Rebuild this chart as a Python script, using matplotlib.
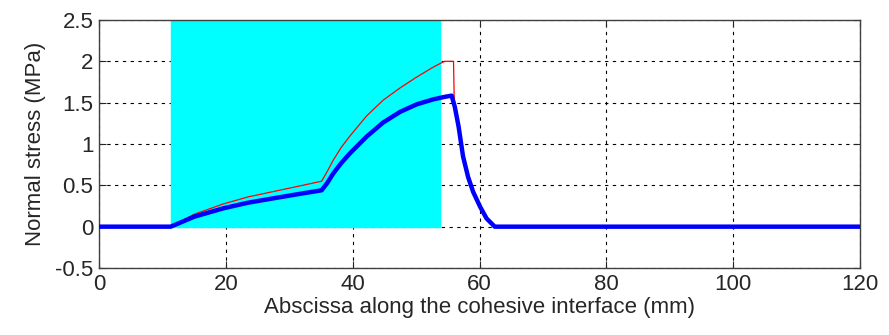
import numpy as np
import matplotlib.pyplot as plt

plt.rcParams['font.family'] = ['Liberation Sans', 'DejaVu Sans']

# cohesive zone (shaded)
zone_start = 11.3
zone_end = 53.8

# red curve: stress ahead of crack
red_x = [0, 11.3, 15, 19.6, 23.5, 27.5, 31.5, 35.1, 36.0, 36.9, 38.2, 39.6, 42.2,
         44.8, 47.5, 50.1, 52.7, 53.7, 54.5, 55.9, 56.0, 56.1, 56.7, 57.4, 58.2,
         59.0, 60.1, 61.1, 62.4, 120]
red_y = [0, 0, 0.15, 0.275, 0.36, 0.425, 0.49, 0.55, 0.67, 0.80, 0.96, 1.10, 1.34,
         1.53, 1.68, 1.81, 1.93, 1.97, 2.0, 2.0, 1.58, 1.45, 1.21, 0.85, 0.60,
         0.42, 0.24, 0.10, 0, 0]

# blue curve: normal stress
blue_x = [0, 11.3, 15, 19.6, 23.5, 27.5, 31.5, 35.1, 36.0, 36.9, 38.2, 39.6, 42.2,
          44.8, 47.5, 50.1, 52.7, 54.5, 55.6, 56.1, 56.7, 57.4, 58.2, 59.0, 60.1,
          61.1, 62.4, 120]
blue_y = [0, 0, 0.12, 0.222, 0.29, 0.343, 0.395, 0.44, 0.53, 0.64, 0.77, 0.89, 1.09,
          1.26, 1.39, 1.48, 1.54, 1.57, 1.585, 1.45, 1.21, 0.85, 0.60, 0.42, 0.24,
          0.10, 0, 0]

fig = plt.figure(figsize=(8.89, 3.35), dpi=100)
ax = fig.add_axes([0.1114, 0.2, 0.8560, 0.7403])

ax.axvspan(zone_start, zone_end, ymin=0.5/3.0, ymax=1.0, color='#00ffff', zorder=2)
ax.plot(red_x, red_y, color='red', lw=0.9, zorder=3)
ax.plot(blue_x, blue_y, color='blue', lw=3.2, zorder=4)

ax.set_xlim(0, 120)
ax.set_ylim(-0.5, 2.5)
ax.set_xticks(np.arange(0, 121, 20))
ax.set_yticks(np.arange(-0.5, 2.51, 0.5))
ax.set_yticklabels(['-0.5', '0', '0.5', '1', '1.5', '2', '2.5'])
ax.grid(True, color='black', linestyle=(0, (3, 4)), lw=0.8, zorder=1)
ax.set_axisbelow(True)
ax.tick_params(direction='in', top=True, right=True, length=5, labelsize=16,
               colors='#262626', pad=4)
for s in ax.spines.values():
    s.set_color('#404040')
    s.set_linewidth(1.0)

ax.set_xlabel('Abscissa along the cohesive interface (mm)', fontsize=16, color='#262626', labelpad=2)
ax.set_ylabel('Normal stress (MPa)', fontsize=16, color='#262626', labelpad=7)

fig.savefig('out.png', dpi=100)
